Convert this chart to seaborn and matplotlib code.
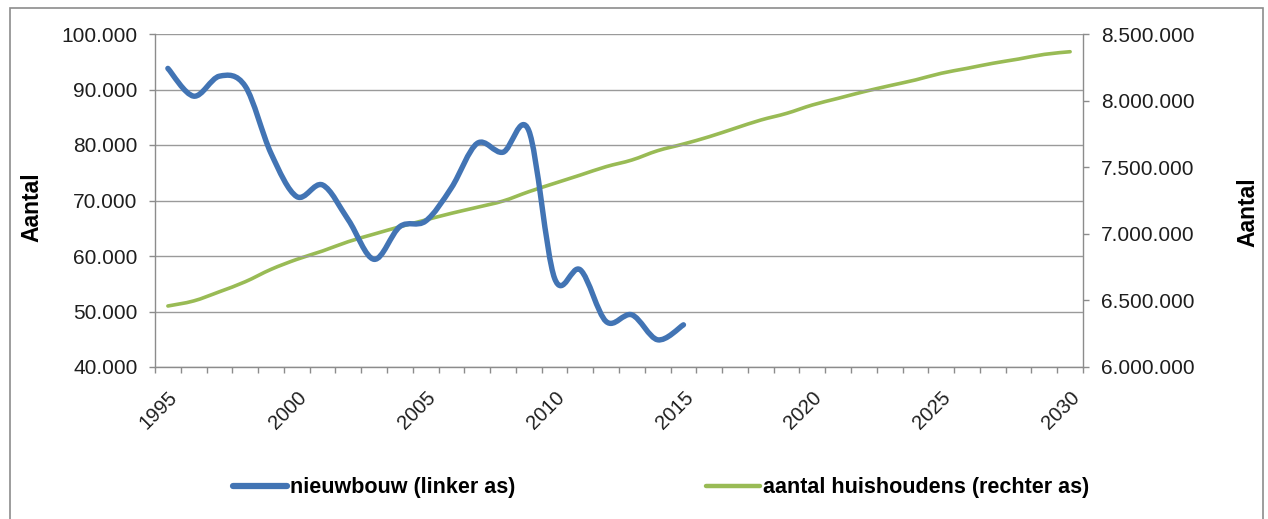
import numpy as np
import pandas as pd
import matplotlib
matplotlib.use("Agg")
import matplotlib.pyplot as plt
from matplotlib.path import Path
from matplotlib.patches import PathPatch, Rectangle
from matplotlib.lines import Line2D
from matplotlib.ticker import FuncFormatter, MultipleLocator
from matplotlib.transforms import ScaledTranslation
import seaborn as sns

# --------------------------
# Data
# --------------------------
jaren_nieuwbouw = list(range(1995, 2016))
nieuwbouw = [93800, 88800, 92400, 90600, 78500, 70700, 72800, 66500, 59400, 65300,
             66300, 72300, 80300, 78700, 82600, 56000, 57500, 48200, 49400, 44900, 47600]

jaren_huishoudens = list(range(1995, 2031))
huishoudens = [6458000, 6496000, 6565000, 6640000, 6733000, 6808000, 6871000, 6941000,
               6998000, 7053000, 7104000, 7154000, 7199000, 7246000, 7316000, 7379000,
               7441000, 7504000, 7554000, 7624000, 7674000, 7729000, 7792000, 7854000,
               7904000, 7967000, 8017000, 8067000, 8112000, 8155000, 8205000, 8242000,
               8280000, 8312000, 8347000, 8367000]

label_nieuwbouw = "nieuwbouw (linker as)"
label_huishoudens = "aantal huishoudens (rechter as)"
as_titel = "Aantal"

BLAUW = "#4274B4"
GROEN = "#99BB55"
GRIJS = "#8C8C8C"
TEKST = "#1E1E1E"


def dutch(v, _pos=None):
    return f"{v:,.0f}".replace(",", ".")


def smooth(ax, line):
    """Replace a straight seaborn line by an Excel-like smoothed bezier curve."""
    pts = line.get_xydata()
    verts, codes = [pts[0]], [Path.MOVETO]
    for i in range(len(pts) - 1):
        p0 = pts[i - 1] if i > 0 else pts[i]
        p1, p2 = pts[i], pts[i + 1]
        p3 = pts[i + 2] if i + 2 < len(pts) else pts[i + 1]
        verts += [p1 + (p2 - p0) / 6, p2 - (p3 - p1) / 6, p2]
        codes += [Path.CURVE4] * 3
    patch = PathPatch(Path(verts, codes), fill=False, edgecolor=line.get_color(),
                      lw=line.get_linewidth(), capstyle="round", joinstyle="round",
                      transform=ax.transData, zorder=3)
    ax.add_patch(patch)
    line.remove()


sns.set_style("white")
plt.rcParams["font.family"] = ["Liberation Sans", "DejaVu Sans"]

W, H = 1268, 519
fig = plt.figure(figsize=(W / 100, H / 100), dpi=100)
ax = fig.add_axes([155 / W, 1 - 367 / H, (1083 - 155) / W, (367 - 34) / H])
ax2 = ax.twinx()

df_bouw = pd.DataFrame({"jaar": jaren_nieuwbouw, "aantal": nieuwbouw})
df_hh = pd.DataFrame({"jaar": jaren_huishoudens, "aantal": huishoudens})

sns.lineplot(data=df_hh, x="jaar", y="aantal", ax=ax2, color=GROEN, lw=2.6)
sns.lineplot(data=df_bouw, x="jaar", y="aantal", ax=ax, color=BLAUW, lw=3.9)
smooth(ax2, ax2.lines[-1])
smooth(ax, ax.lines[-1])

# blue series above the green one
ax.set_zorder(ax2.get_zorder() + 1)
ax.patch.set_visible(False)

# axes
ax.set_xlim(1994.5, 2030.5)
ax.set_ylim(40000, 100000)
ax2.set_ylim(6000000, 8500000)
ax.yaxis.set_major_locator(MultipleLocator(10000))
ax2.yaxis.set_major_locator(MultipleLocator(500000))
ax.yaxis.set_major_formatter(FuncFormatter(dutch))
ax2.yaxis.set_major_formatter(FuncFormatter(dutch))

ax.set_xticks(range(1995, 2031, 5))
ax.set_xticks(np.arange(1994.5, 2031, 1), minor=True)
ax.set_xticklabels([str(j) for j in range(1995, 2031, 5)], rotation=45,
                   ha="right", va="top", rotation_mode="anchor")
shift = ScaledTranslation(-4 / 100, 0, fig.dpi_scale_trans)
for lbl in ax.get_xticklabels():
    lbl.set_transform(lbl.get_transform() + shift)

ax.grid(axis="y", color="#9A9A9A", lw=1)
ax.grid(axis="x", visible=False)
ax2.grid(False)

for a in (ax, ax2):
    for s in a.spines.values():
        s.set_visible(False)
        s.set_color(GRIJS)
        s.set_linewidth(1)
ax.spines["left"].set_visible(True)
ax.spines["bottom"].set_visible(True)
ax2.spines["right"].set_visible(True)

ax.tick_params(axis="y", which="major", left=True, length=4.5, width=1, color=GRIJS,
               pad=8, labelsize=15, labelcolor=TEKST)
ax2.tick_params(axis="y", which="major", right=True, length=4.5, width=1, color=GRIJS,
                pad=8.5, labelsize=15, labelcolor=TEKST)
ax.tick_params(axis="x", which="major", bottom=True, length=0, pad=15,
               labelsize=14.5, labelcolor=TEKST)
ax.tick_params(axis="x", which="minor", bottom=True, length=4.5, width=1, color=GRIJS)

ax.set_xlabel("")
ax.set_ylabel(as_titel, fontsize=16.5, fontweight="bold", color="black")
ax.yaxis.set_label_coords(-0.1207, 0.479)
ax2.set_ylabel(as_titel, fontsize=16.5, fontweight="bold", color="black")
ax2.yaxis.set_label_coords(1.165, 0.465)

# legend below the plot
handles = [
    Line2D([], [], color=BLAUW, lw=4.5, solid_capstyle="round"),
    Line2D([], [], color=GROEN, lw=3.2, solid_capstyle="round"),
]
fig.legend(handles, [label_nieuwbouw, label_huishoudens], ncol=2, frameon=False,
           loc="center", bbox_to_anchor=(661 / W, 1 - 488 / H),
           prop={"weight": "bold", "size": 15.5}, handlelength=2.5,
           handletextpad=0.15, columnspacing=8.85, labelcolor="black")

# chart area border
fig.patches.append(Rectangle((10 / W, -0.02), (1263 - 10) / W, 1.02 - 8 / H,
                             transform=fig.transFigure, fill=False,
                             edgecolor=GRIJS, lw=1.2))

fig.savefig("out.png", dpi=100, facecolor="white")
